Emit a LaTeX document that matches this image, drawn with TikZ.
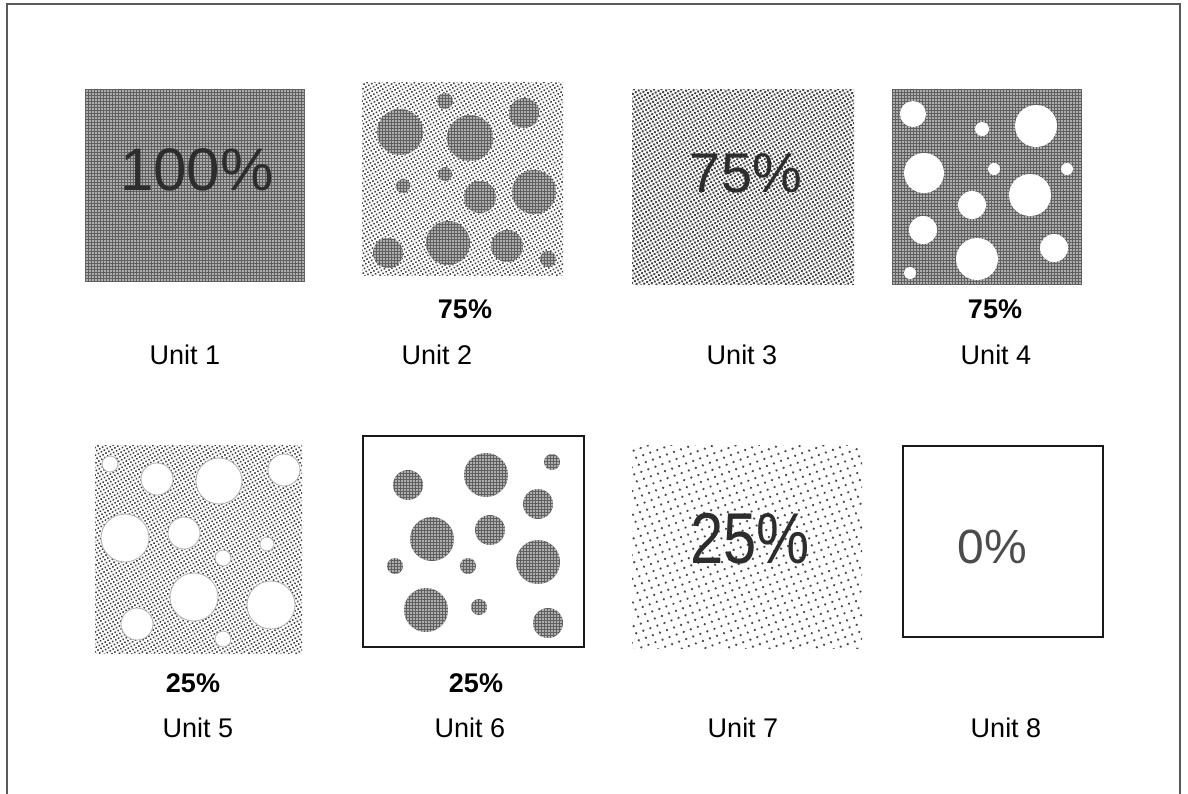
\documentclass[tikz,border=0pt]{standalone}
\usepackage{fontspec}
\setmainfont{Liberation Sans}
\usetikzlibrary{patterns.meta}

\tikzset{
  darktone/.style={preaction={fill=gray!75!black}, pattern={Dots[radius=0.9pt,distance=3pt]}, pattern color=white},
  midtone/.style={preaction={fill=white}, pattern={Dots[radius=1.35pt,distance=3.4pt,angle=30]}, pattern color=black!75},
  lighttone/.style={preaction={fill=white}, pattern={Dots[radius=1.1pt,distance=3.4pt,angle=30]}, pattern color=black!75},
  sparsetone/.style={preaction={fill=white}, pattern={Dots[radius=1.3pt,distance=7.5pt,angle=20]}, pattern color=black!70},
  unitlabel/.style={anchor=base, font=\fontsize{27}{30}\selectfont},
  pctlabel/.style={anchor=base, font=\fontsize{27}{30}\selectfont\bfseries},
  bigpct/.style={anchor=base, text=gray!35!black}
}

\begin{document}
\begin{tikzpicture}[x=1pt,y=-1pt]
\useasboundingbox (0,0) rectangle (1188,793);

%% frame
\draw[gray!70!black, line width=1.2pt] (7,800) -- (7,4) -- (1180,4) -- (1180,800);

%% Unit 1
\path[darktone] (85,89) rectangle (305,282);
\node[bigpct, font=\fontsize{60}{60}\selectfont] (t1) at (197,190) {100\%};

%% Unit 2
\path[lighttone] (362,82) rectangle (563,275);
\foreach \cx/\cy/\r in {445/101/8, 400/132/23, 470/138/23, 524/113/15, 445/174/7, 403/186/7,
  480/197/16, 534/192/22, 448/243/22, 507/246/16, 388/253/15, 548/259/8}
  \path[darktone] (\cx,\cy) circle (\r);

%% Unit 3
\path[midtone] (632,89) rectangle (854,284);
\node[bigpct, font=\fontsize{56}{56}\selectfont] (t3) at (746,192) {75\%};

%% Unit 4
\path[darktone] (892,89) rectangle (1082,285);
\foreach \cx/\cy/\r in {913/114/13, 982/129/7, 1036/126/21, 924/173/20, 994/169/6, 1067/169/6,
  1030/195/21, 972/205/14, 923/230/14, 977/259/21, 1054/248/14, 910/273/6}
  \fill[white] (\cx,\cy) circle (\r);

%% Unit 5
\path[lighttone] (95,445) rectangle (302,653);
\foreach \cx/\cy/\r in {110/464/8, 157/479/16, 219/481/23, 284/470/16, 125/538/24, 184/533/16,
  267/544/7, 223/558/8, 194/597/24, 271/605/24, 137/624/16, 223/639/8}
  \draw[gray!60, fill=white, line width=0.8pt] (\cx,\cy) circle (\r);

%% Unit 6
\draw[line width=1.2pt, gray!20!black] (363,436) rectangle (584,647);
\foreach \cx/\cy/\r in {408/485/15, 486/475/22, 552/462/8, 538/504/15, 432/539/22, 490/530/15,
  538/562/22, 395/566/8, 468/566/8, 426/610/22, 479/607/8, 548/623/15}
  \path[darktone] (\cx,\cy) circle (\r);

%% Unit 7
\path[sparsetone] (632,445) rectangle (862,648);
\node[bigpct, font=\fontsize{72}{72}\selectfont, xscale=0.83] (t7) at (750,563) {25\%};

%% Unit 8
\draw[line width=1.2pt, gray!20!black] (903,446) rectangle (1103,637);
\node[bigpct, text=gray!60!black, font=\fontsize{48}{48}\selectfont] (t8) at (992,563) {0\%};

%% percentages
\node[pctlabel] (p2) at (465,318) {75\%};
\node[pctlabel] (p4) at (995,318) {75\%};
\node[pctlabel] (p5) at (193,692) {25\%};
\node[pctlabel] (p6) at (476,692) {25\%};

%% unit names
\node[unitlabel] (u1) at (185,364) {Unit 1};
\node[unitlabel] (u2) at (437,364) {Unit 2};
\node[unitlabel] (u3) at (742,364) {Unit 3};
\node[unitlabel] (u4) at (996,364) {Unit 4};
\node[unitlabel] (u5) at (198,737) {Unit 5};
\node[unitlabel] (u6) at (470,737) {Unit 6};
\node[unitlabel] (u7) at (743,737) {Unit 7};
\node[unitlabel] (u8) at (1006,737) {Unit 8};

\end{tikzpicture}
\end{document}
